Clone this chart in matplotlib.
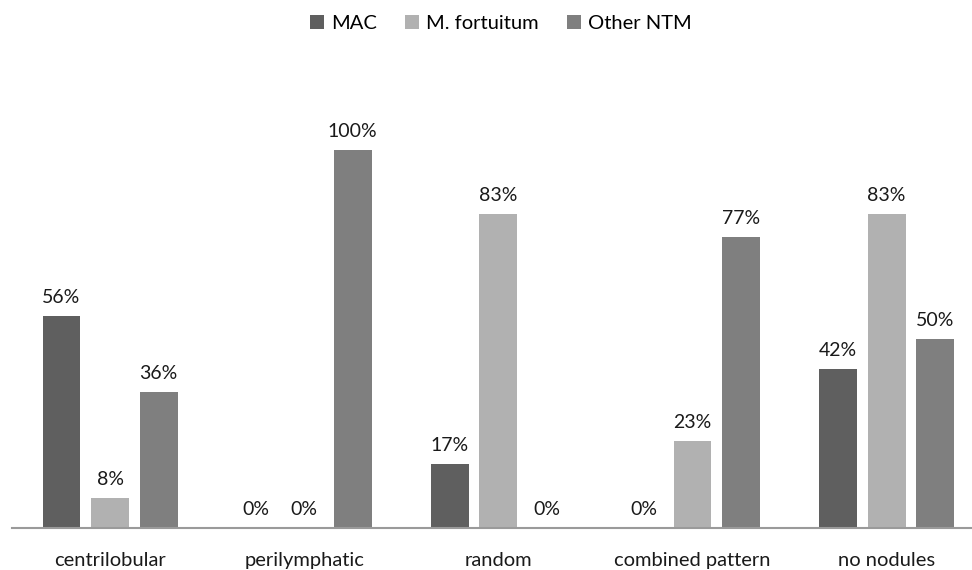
import numpy as np
import matplotlib.pyplot as plt

categories = ["centrilobular", "perilymphatic", "random", "combined pattern", "no nodules"]
series = ["MAC", "M. fortuitum", "Other NTM"]
mac = [56, 0, 17, 0, 42]
fortuitum = [8, 0, 83, 23, 83]
other_ntm = [36, 100, 0, 77, 50]
colors = ["#5f5f5f", "#b1b1b1", "#7f7f7f"]

plt.rcParams['font.family'] = ['Lato', 'DejaVu Sans']

fig = plt.figure(figsize=(9.72, 5.7), dpi=100)
ax = fig.add_axes([12/972, 42/570, 1 - 12/972, (528 - 90)/570])

x = np.arange(len(categories))
w = 0.195
off = 0.25
for i, (vals, name) in enumerate(zip([mac, fortuitum, other_ntm], series)):
    pos = x + (i - 1) * off
    ax.bar(pos, vals, width=w, color=colors[i], label=name)
    for p, v in zip(pos, vals):
        ax.text(p, v + 2.6, f"{v}%", ha="center", va="bottom", fontsize=14, color="#1a1a1a")

ax.set_xlim(-0.505, 4.44)
ax.set_ylim(0, (528 - 90) / 378 * 100)
ax.set_yticks([])
ax.set_xticks(x)
ax.set_xticklabels(categories, fontsize=14.5, color="#1a1a1a")
ax.tick_params(axis="x", length=0, pad=17)
for s in ["top", "right", "left"]:
    ax.spines[s].set_visible(False)
ax.spines["bottom"].set_color("#9a9a9a")
ax.spines["bottom"].set_linewidth(1.5)

fig.legend(loc="upper center", bbox_to_anchor=(0.515, 1.005), ncol=3, frameon=False,
           fontsize=14.5, handlelength=0.7, handleheight=0.7, handletextpad=0.35,
           columnspacing=1.4)

fig.savefig("out.png", dpi=100)
